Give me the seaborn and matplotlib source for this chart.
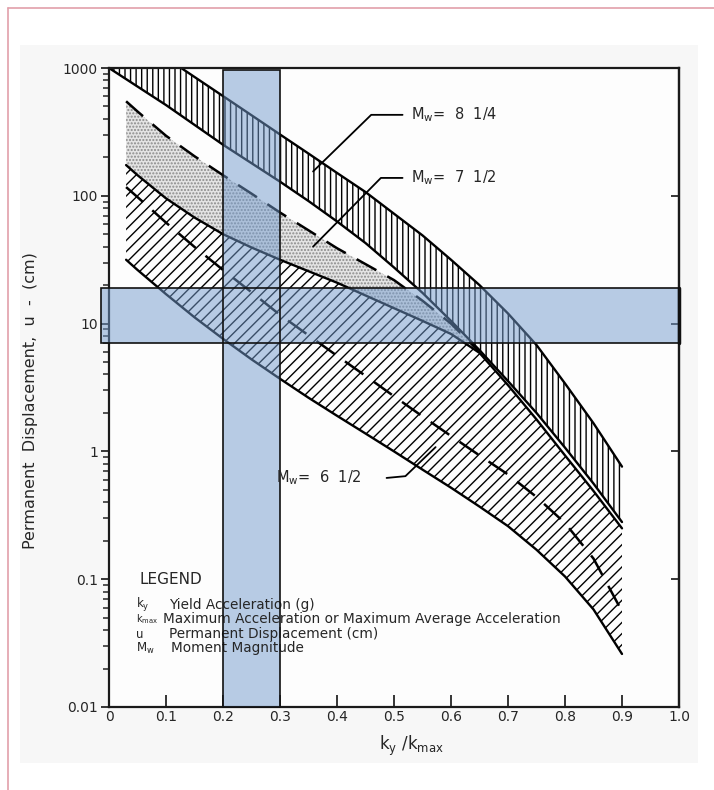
import numpy as np
import pandas as pd
import seaborn as sns
import matplotlib.pyplot as plt
from matplotlib.path import Path
from matplotlib.patches import PathPatch, Rectangle
from matplotlib.lines import Line2D
from matplotlib.ticker import LogLocator, NullLocator, FixedLocator

sns.set_style("ticks")
plt.rcParams['font.family'] = ['DejaVu Sans']
plt.rcParams['hatch.linewidth'] = 1.0
plt.rcParams['mathtext.default'] = 'regular'

# values, displacement u in cm vs ky/kmax
x_825 = [0.0, 0.05, 0.1, 0.15, 0.2, 0.25, 0.3, 0.35, 0.4, 0.45,
         0.5, 0.55, 0.6, 0.65, 0.7, 0.75, 0.8, 0.85, 0.9]
upper_825 = [2344, 1660, 1202, 851, 603, 427, 302, 214, 151, 107,
             72.4, 49, 31.6, 20, 12.0, 6.8, 3.4, 1.66, 0.76]
lower_825 = [1000, 716, 513, 359, 251, 180, 129, 91, 63, 42.7,
             27.5, 17.4, 10.5, 6.2, 3.55, 2.0, 1.07, 0.56, 0.28]

x_65 = [0.03, 0.05, 0.1, 0.15, 0.2, 0.25, 0.3, 0.35, 0.4, 0.45,
        0.5, 0.55, 0.6, 0.65, 0.7, 0.75, 0.8, 0.85, 0.9]
upper_65 = [174, 145, 95.5, 67.6, 50.1, 39.4, 31.6, 25.7, 20.9, 16.6,
            13.2, 10.5, 8.3, 5.9, 3.3, 1.78, 0.93, 0.49, 0.25]
mid_65 = [117, 97.7, 61.7, 39.8, 26.3, 17.6, 11.7, 8.1, 5.6, 3.9,
          2.7, 1.88, 1.32, 0.93, 0.66, 0.44, 0.275, 0.145, 0.056]
lower_65 = [31.6, 26.3, 17.0, 11.2, 7.6, 5.25, 3.7, 2.63, 1.9, 1.38,
            1.0, 0.72, 0.52, 0.37, 0.26, 0.17, 0.105, 0.058, 0.026]

# Mw 7 1/2: dashed upper edge, lower edge shared with the 6 1/2 upper curve
x_75 = [0.03, 0.05, 0.1, 0.15, 0.2, 0.25, 0.3, 0.35, 0.4, 0.45,
        0.5, 0.55, 0.6, 0.65]
upper_75 = [549, 457, 295, 204, 145, 104, 74, 53.7, 38.9, 29.2,
            21.9, 15.1, 10.0, 6.0]

# highlighted ranges
ky_range = [0.2, 0.3]
ky_range_top = 970
u_range = [7, 19]
u_range_x = [-0.014, 1.0]

x_ticks = [0, 0.1, 0.2, 0.3, 0.4, 0.5, 0.6, 0.7, 0.8, 0.9, 1.0]
x_ticklabels = ['0', '0.1', '0.2', '0.3', '0.4', '0.5', '0.6', '0.7', '0.8', '0.9', '1.0']
y_ticks = [0.01, 0.1, 1, 10, 100, 1000]
y_ticklabels = ['0.01', '0.1', '1', '10', '100', '1000']

legend_syms = ['$k_y$', '$k_{max}$', 'u', '$M_w$']
legend_desc = ['Yield Acceleration (g)',
               'Maximum Acceleration or Maximum Average Acceleration',
               'Permanent Displacement (cm)',
               'Moment Magnitude']

fig = plt.figure(figsize=(7.14, 7.90), dpi=100)
fig.patch.set_facecolor('white')
# faint scanned-page background and the pink frame of the screenshot
fig.patches.append(Rectangle((20 / 714, 1 - 763 / 790), 678 / 714, 718 / 790,
                             transform=fig.transFigure, facecolor='#f7f7f7',
                             edgecolor='none', zorder=-10))
fig.add_artist(Line2D([8 / 714, 1], [1 - 8 / 790] * 2, transform=fig.transFigure,
                      color='#e2a0aa', lw=1.2))
fig.add_artist(Line2D([8 / 714] * 2, [0, 1 - 8 / 790], transform=fig.transFigure,
                      color='#e2a0aa', lw=1.2))

ax = fig.add_axes([109 / 714, 1 - 707 / 790, 570 / 714, 639 / 790])
ax.set_facecolor('#fdfdfd')
ax.set_yscale('log')

# bands
ax.fill_between(x_825, lower_825, upper_825, facecolor='none', edgecolor='black',
                hatch='|||', linewidth=0, zorder=1)
ax.fill_between(x_75, upper_65[:len(x_75)], upper_75, facecolor='#e4e4e4',
                edgecolor='#8a8a8a', hatch='.....', linewidth=0, zorder=1)
ax.fill_between(x_65, lower_65, upper_65, facecolor='none', edgecolor='black',
                hatch='///', linewidth=0, zorder=1)

# boundary lines
for xs, ys in [(x_825, upper_825), (x_825, lower_825), (x_65, upper_65), (x_65, lower_65)]:
    sns.lineplot(x=xs, y=ys, ax=ax, color='black', lw=1.7, zorder=2)
for xs, ys in [(x_75, upper_75), (x_65, mid_65)]:
    sns.lineplot(x=xs, y=ys, ax=ax, color='black', lw=1.8, zorder=2,
                 linestyle=(0, (9, 5)))

ax.set_xlim(0, 1.0)
ax.set_ylim(0.01, 1000)

# blue highlight: union of the two strips filled once, outlines drawn separately
x0, x1 = ky_range
ux0, ux1 = u_range_x
y0, y1 = u_range
verts = [(x0, 0.01), (x1, 0.01), (x1, ky_range_top), (x0, ky_range_top), (x0, 0.01),
         (ux0, y0), (ux1, y0), (ux1, y1), (ux0, y1), (ux0, y0)]
codes = [Path.MOVETO, Path.LINETO, Path.LINETO, Path.LINETO, Path.CLOSEPOLY] * 2
ax.add_patch(PathPatch(Path(verts, codes), facecolor='#739bcd', alpha=0.5,
                       edgecolor='none', zorder=3, clip_on=False))
ax.add_patch(Rectangle((x0, 0.01), x1 - x0, ky_range_top - 0.01, facecolor='none',
                       edgecolor='#111111', lw=1.2, zorder=4, clip_on=False))
ax.add_patch(Rectangle((ux0, y0), ux1 - ux0, y1 - y0, facecolor='none',
                       edgecolor='#111111', lw=1.2, zorder=4, clip_on=False))
ax.plot([ux1, ux1], [y0, y1], color='#111111', lw=2.5, zorder=4, clip_on=False)

# magnitude labels with leader lines
ax.text(0.53, 430, '$M_w$=  8  1/4', fontsize=10.5, va='center', zorder=5)
ax.plot([0.515, 0.46, 0.358], [430, 430, 155], color='black', lw=1.3, zorder=5)
ax.text(0.53, 138, '$M_w$=  7  1/2', fontsize=10.5, va='center', zorder=5)
ax.plot([0.515, 0.477, 0.358], [138, 138, 40], color='black', lw=1.3, zorder=5)
ax.text(0.293, 0.62, '$M_w$=  6  1/2', fontsize=10.5, va='center', zorder=5)
ax.plot([0.487, 0.52, 0.573], [0.62, 0.64, 1.08], color='black', lw=1.3, zorder=5)

# legend block
ax.text(0.054, 0.20, 'LEGEND', transform=ax.transAxes, fontsize=11, va='center')
rows_y = [0.16, 0.137, 0.114, 0.092]
desc_x = [0.105, 0.094, 0.105, 0.109]
sym_size = [8.5, 7, 8.5, 8.5]
for sym, desc, ry, dx, ss in zip(legend_syms, legend_desc, rows_y, desc_x, sym_size):
    ax.text(0.048, ry, sym, transform=ax.transAxes, fontsize=ss, va='center')
    ax.text(dx, ry, desc, transform=ax.transAxes, fontsize=9.8, va='center')

# axes, ticks
ax.set_xticks(x_ticks)
ax.set_xticklabels(x_ticklabels)
ax.yaxis.set_major_locator(FixedLocator(y_ticks))
ax.set_yticklabels(y_ticklabels)
ax.yaxis.set_minor_locator(LogLocator(base=10, subs=np.arange(2, 10)))
ax.tick_params(axis='x', direction='in', length=8.5, width=1.3, pad=2.5, labelsize=10,
               top=False)
ax.tick_params(axis='y', which='major', direction='out', length=6, width=1.3,
               pad=2, labelsize=10, right=False)
ax.tick_params(axis='y', which='minor', direction='out', length=4.3, width=1.1, right=False)
ax.xaxis.set_minor_locator(NullLocator())

ax_r = ax.secondary_yaxis('right')
ax_r.yaxis.set_major_locator(FixedLocator([0.1, 1, 10, 100]))
ax_r.yaxis.set_minor_locator(NullLocator())
ax_r.tick_params(direction='in', length=6, width=1.3, labelright=False)
ax_r.spines['right'].set_linewidth(1.6)

for sp in ax.spines.values():
    sp.set_visible(True)
    sp.set_linewidth(1.6)
    sp.set_color('#1a1a1a')

ax.set_ylabel('Permanent  Displacement,  u  -  (cm)', fontsize=11.5)
ax.yaxis.set_label_coords(-0.125, 0.48)
ax.set_xlabel('$k_y\\ /k_{max}$', fontsize=12)
ax.xaxis.set_label_coords(0.53, -0.042)

fig.savefig('out.png', dpi=100)
